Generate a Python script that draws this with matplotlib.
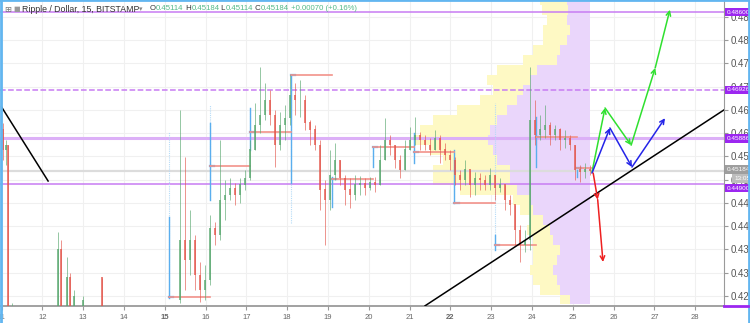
import matplotlib.pyplot as plt
import numpy as np

W, H = 750, 323

# axes
day_ticks = list(range(11, 29))
price_ticks = [0.425, 0.430, 0.435, 0.440, 0.445, 0.450, 0.455, 0.460,
               0.465, 0.470, 0.475, 0.480, 0.485]

# early candles (mostly below the visible range)
early_days = [11.03, 11.11, 11.16, 11.25, 12.38, 12.46, 12.60, 12.68, 12.77, 13.00, 13.46]
early_open = [0.4607, 0.4564, 0.4574, 0.4150, 0.4150, 0.4350, 0.4160, 0.4290, 0.4160, 0.4160, 0.4289]
early_high = [0.4622, 0.4585, 0.4574, 0.4235, 0.4388, 0.4370, 0.4334, 0.4300, 0.4263, 0.4250, 0.4289]
early_low = [0.4542, 0.4531, 0.4120, 0.4120, 0.4130, 0.4130, 0.4140, 0.4140, 0.4140, 0.4140, 0.4130]
early_close = [0.4564, 0.4574, 0.4150, 0.4210, 0.4350, 0.4160, 0.4290, 0.4160, 0.4250, 0.4240, 0.4150]

# main run of candles, day 15.4 -> 25.4 (thinned from the 15m chart)
first_open = 0.4242
closes = [0.4370, 0.4327, 0.4370, 0.4295, 0.4263, 0.4284, 0.4396, 0.4381, 0.4456, 0.4467,
          0.4482, 0.4467, 0.4489, 0.4503, 0.4564, 0.4617, 0.4639, 0.4671, 0.4639, 0.4574,
          0.4617, 0.4632, 0.4682, 0.4671, 0.4671, 0.4622, 0.4607, 0.4574, 0.4478, 0.4456,
          0.4510, 0.4542, 0.4503, 0.4478, 0.4467, 0.4489, 0.4493, 0.4482, 0.4495, 0.4489,
          0.4542, 0.4585, 0.4574, 0.4542, 0.4521, 0.4564, 0.4585, 0.4596, 0.4585, 0.4574,
          0.4564, 0.4589, 0.4564, 0.4553, 0.4542, 0.4510, 0.4499, 0.4521, 0.4489, 0.4503,
          0.4499, 0.4489, 0.4510, 0.4482, 0.4489, 0.4456, 0.4446, 0.4392, 0.4360, 0.4370,
          0.4628, 0.4596, 0.4607, 0.4617, 0.4596, 0.4607, 0.4585, 0.4589, 0.4574, 0.4521,
          0.4516, 0.4521, 0.45184]
highs = [0.4650, 0.4549, 0.4435, 0.4381, 0.4323, 0.4317, 0.4424, 0.4409, 0.4585, 0.4499,
         0.4503, 0.4493, 0.4503, 0.4521, 0.4585, 0.4665, 0.4742, 0.4708, 0.4693, 0.4650,
         0.4645, 0.4660, 0.4725, 0.4708, 0.4714, 0.4682, 0.4628, 0.4617, 0.4585, 0.4499,
         0.4564, 0.4579, 0.4542, 0.4510, 0.4503, 0.4510, 0.4508, 0.4503, 0.4506, 0.4506,
         0.4574, 0.4632, 0.4596, 0.4570, 0.4553, 0.4585, 0.4613, 0.4634, 0.4602, 0.4596,
         0.4589, 0.4607, 0.4596, 0.4579, 0.4564, 0.4549, 0.4521, 0.4542, 0.4516, 0.4516,
         0.4514, 0.4510, 0.4525, 0.4510, 0.4503, 0.4489, 0.4467, 0.4435, 0.4403, 0.4392,
         0.4742, 0.4671, 0.4639, 0.4660, 0.4624, 0.4617, 0.4611, 0.4607, 0.4596, 0.4574,
         0.4531, 0.4535, 0.4531]
lows = [0.4235, 0.4263, 0.4295, 0.4263, 0.4237, 0.4242, 0.4274, 0.4360, 0.4370, 0.4413,
        0.4456, 0.4446, 0.4450, 0.4478, 0.4499, 0.4564, 0.4600, 0.4628, 0.4617, 0.4527,
        0.4564, 0.4585, 0.4617, 0.4639, 0.4634, 0.4607, 0.4574, 0.4564, 0.4435, 0.4360,
        0.4435, 0.4499, 0.4489, 0.4446, 0.4439, 0.4456, 0.4467, 0.4467, 0.4478, 0.4474,
        0.4489, 0.4553, 0.4553, 0.4525, 0.4503, 0.4531, 0.4564, 0.4574, 0.4564, 0.4564,
        0.4553, 0.4570, 0.4535, 0.4542, 0.4521, 0.4489, 0.4478, 0.4489, 0.4463, 0.4467,
        0.4478, 0.4478, 0.4478, 0.4456, 0.4474, 0.4435, 0.4424, 0.4360, 0.4323, 0.4344,
        0.4349, 0.4574, 0.4585, 0.4589, 0.4574, 0.4585, 0.4564, 0.4568, 0.4564, 0.4499,
        0.4495, 0.4503, 0.4510]
main_start, main_end = 15.37, 25.42

# visible range volume profile (anchored at the last bar)
vp_right = 25.42
vp_price = [0.4886, 0.4864, 0.4843, 0.4821, 0.4800, 0.4779, 0.4757, 0.4736, 0.4714, 0.4693,
            0.4671, 0.4650, 0.4628, 0.4607, 0.4585, 0.4564, 0.4542, 0.4521, 0.4499, 0.4478,
            0.4456, 0.4435, 0.4413, 0.4392, 0.4370, 0.4349, 0.4327, 0.4306, 0.4284, 0.4263,
            0.4242]
vp_total = [1.23, 1.18, 1.05, 1.15, 1.15, 1.40, 1.64, 2.28, 2.52, 2.38,
            2.70, 3.26, 3.85, 4.17, 4.29, 3.92, 3.60, 3.85, 3.85, 3.19,
            1.89, 1.72, 1.47, 1.54, 1.40, 1.40, 1.40, 1.47, 1.40, 1.23, 0.74]
vp_inner = [0.56, 0.54, 0.56, 0.49, 0.56, 0.74, 0.81, 1.30, 1.47, 1.64,
            1.79, 2.03, 2.28, 2.45, 2.50, 2.38, 2.28, 1.96, 1.96, 1.79,
            1.47, 1.40, 1.15, 0.98, 0.91, 0.74, 0.81, 0.91, 0.81, 0.74, 0.49]

# daily session volume (blue) with point of control lines
sess_day = [15.1, 16.1, 17.1, 18.1, 19.1, 20.1, 21.1, 22.1, 23.1, 24.1, 25.1]
sess_lo = [0.4245, 0.4456, 0.4564, 0.4493, 0.4441, 0.4527, 0.4535, 0.4449, 0.4349, 0.4527, 0.4506]
sess_hi = [0.4419, 0.4622, 0.4654, 0.4725, 0.4506, 0.4570, 0.4600, 0.4564, 0.4381, 0.4634, 0.4521]
sess_ext_lo = [0.4245, 0.4456, 0.4564, 0.4406, 0.4441, 0.4527, 0.4535, 0.4449, 0.4349, 0.4527, 0.4506]
sess_ext_hi = [0.4603, 0.4660, 0.4654, 0.4725, 0.4506, 0.4570, 0.4600, 0.4564, 0.4665, 0.4634, 0.4521]
sess_poc = [0.4247, 0.4529, 0.4602, 0.4725, 0.4501, 0.4570, 0.4559, 0.4449, 0.4360, 0.4592, 0.4525]

# horizontal levels
levels = [0.48600, 0.46926, 0.45886, 0.44900]
level_styles = ["-", "--", "-", "-"]
last_price = 0.45184

# trend lines
down_days, down_prices = [11.0, 12.14], [0.4656, 0.4497]
up_days, up_prices = [21.38, 28.71], [0.4229, 0.4650]

# projected paths
green_days = [25.47, 25.79, 26.43, 27.02, 27.38]
green_prices = [0.4516, 0.4654, 0.4574, 0.4740, 0.4865]
blue_days = [25.47, 25.91, 26.45, 27.26]
blue_prices = [0.4514, 0.4611, 0.4527, 0.4632]
red_days = [25.50, 25.61, 25.74]
red_prices = [0.4514, 0.4457, 0.4323]

UP, DOWN = "#5aa870", "#e3584e"
PURPLE = "#c77cf2"
BOX = "#9c27f0"

plt.rcParams["font.family"] = ["Liberation Sans", "DejaVu Sans"]
fig = plt.figure(figsize=(W / 100, H / 100), dpi=100)
ax = fig.add_axes([0, 17 / H, 724 / W, 306 / H])
ax.set_xlim(10.961, 28.706)
ax.set_ylim(0.42285, 0.48859)

ax.set_xticks(day_ticks)
ax.set_yticks(price_ticks)
ax.grid(color="#f0f0f0", lw=0.8, zorder=0)
ax.set_axisbelow(True)

# volume profile
vp_price = np.array(vp_price)
vp_total = np.array(vp_total)
vp_inner = np.array(vp_inner)
ax.barh(vp_price, vp_total - vp_inner, left=vp_right - vp_total, height=0.00205,
        color="#fef9c4", lw=0, zorder=1)
ax.barh(vp_price, vp_inner, left=vp_right - vp_inner, height=0.00205,
        color="#ead6fb", lw=0, zorder=1)

# levels
for lv, ls in zip(levels, level_styles):
    lw = 2.2 if lv == 0.45886 else 1.1
    col = "#dcb0f7" if lv == 0.45886 else PURPLE
    ax.axhline(lv, color=col, lw=lw, ls=ls, zorder=2)
ax.axhline(last_price, color="#dcdcdc", lw=1.6, zorder=1.5)

# session volume + POC
for d, lo, hi, elo, ehi, poc in zip(sess_day, sess_lo, sess_hi, sess_ext_lo, sess_ext_hi, sess_poc):
    ax.plot([d, d], [elo, ehi], color="#b5dbf7", lw=0.8, ls=(0, (1, 1)), zorder=2.5)
    ax.plot([d, d], [lo, hi], color="#5aaeee", lw=1.0, zorder=2.6)
    ax.plot([d, d + 0.1], [poc, poc], color="#5aaeee", lw=1.6, zorder=2.6)
    end = min(d + 1.0, vp_right + 0.05)
    ax.plot([d, end], [poc, poc], color="#f2928a", lw=1.2, zorder=2.7)


def draw_candles(t, o, h, l, c, width):
    t, o, h, l, c = map(np.asarray, (t, o, h, l, c))
    h = np.maximum(h, np.maximum(o, c))
    l = np.minimum(l, np.minimum(o, c))
    col = np.where(c >= o, UP, DOWN)
    ax.vlines(t, l, h, colors=col, lw=0.6, alpha=0.75, zorder=3)
    ax.bar(t, np.abs(c - o) + 0.00008, bottom=np.minimum(o, c), width=width,
           color=col, alpha=0.75, lw=0, zorder=3)


draw_candles(early_days, early_open, early_high, early_low, early_close, 0.04)
times = np.linspace(main_start, main_end, len(closes))
opens = [first_open] + closes[:-1]
draw_candles(times, opens, highs, lows, closes, 0.055)

# trend lines
ax.plot(down_days, down_prices, color="black", lw=1.1, zorder=4)
ax.plot(up_days, up_prices, color="black", lw=1.1, zorder=4)

# projections
for ds, ps, col in [(green_days, green_prices, "#2fe02f"),
                    (blue_days, blue_prices, "#2424e8"),
                    (red_days, red_prices, "#ee2020")]:
    for i in range(len(ds) - 1):
        ax.annotate("", xy=(ds[i + 1], ps[i + 1]), xytext=(ds[i], ps[i]),
                    arrowprops=dict(arrowstyle="->", color=col, lw=1.1,
                                    mutation_scale=8, shrinkA=0, shrinkB=0),
                    zorder=5)

# axes styling
for s in ["top", "left"]:
    ax.spines[s].set_visible(False)
ax.spines["bottom"].set_color("#9a9a9a")
ax.spines["bottom"].set_linewidth(1.3)
ax.spines["right"].set_color("#9a9a9a")
ax.yaxis.tick_right()
ax.tick_params(axis="y", labelsize=7, colors="#9a9a9a", labelcolor="#555555",
               length=3, pad=1.5)
ax.tick_params(axis="x", labelsize=5.5, colors="#9a9a9a", labelcolor="#666666",
               length=3, pad=3)
ax.set_yticklabels([f"{p:.3f}" for p in price_ticks])
ax.set_xticklabels([str(d) for d in day_ticks])
for lab in ax.get_xticklabels():
    if lab.get_text() in ("15", "22"):
        lab.set_fontweight("bold")

# price scale labels
ytr = ax.get_yaxis_transform()
label_pos = [0.48600, 0.46926, 0.45886, 0.4482]
for lv, pos in zip(levels, label_pos):
    ax.text(1.004, pos, f"{lv:.5f}", transform=ytr, fontsize=4.6, color="white",
            va="center", ha="left", zorder=10, clip_on=False,
            bbox=dict(boxstyle="square,pad=0.3", fc=BOX, ec="none"))
ax.text(1.004, last_price + 0.0003, f"{last_price:.5f}", transform=ytr, fontsize=4.6,
        color="white", va="center", ha="left", zorder=10, clip_on=False,
        bbox=dict(boxstyle="square,pad=0.3", fc="#9e9e9e", ec="none"))
ax.text(1.014, last_price - 0.0016, "13:05", transform=ytr, fontsize=4.6,
        color="white", va="center", ha="left", zorder=10, clip_on=False,
        bbox=dict(boxstyle="square,pad=0.3", fc="#bdbdbd", ec="none"))

# header
renderer = fig.canvas.get_renderer()
fig.text(4 / W, 1 - 9 / H, "⊞", fontsize=6, color="#777777", va="center",
         family=["DejaVu Sans"])
fig.text(13 / W, 1 - 9 / H, "■", fontsize=5, color="#999999", va="center",
         family=["DejaVu Sans"])
fig.text(22 / W, 1 - 9 / H, "Ripple / Dollar, 15, BITSTAMP", fontsize=6.3,
         color="#333333", va="center")
fig.text(139 / W, 1 - 9 / H, "▾", fontsize=5, color="#888888", va="center",
         family=["DejaVu Sans"])
pieces = [("O", "#333333"), ("0.45114", "#53b987"), (" H", "#333333"), ("0.45184", "#53b987"),
          (" L", "#333333"), ("0.45114", "#53b987"), (" C", "#333333"), ("0.45184", "#53b987"),
          (" +0.00070 (+0.16%)", "#53b987")]
x = 150
for txt, col in pieces:
    t = fig.text(x / W, 1 - 9 / H, txt, fontsize=5.6, color=col, va="center")
    x += t.get_window_extent(renderer).width

# frame
frame = dict(color="#62b6f0", lw=2, transform=fig.transFigure, clip_on=False)
fig.add_artist(plt.Line2D([0.001, 0.001], [0, 1], **frame))
fig.add_artist(plt.Line2D([0, 1], [0.999, 0.999], **frame))
fig.add_artist(plt.Line2D([748.5 / W, 748.5 / W], [0, 1], **frame))
fig.add_artist(plt.Line2D([724 / W, 748 / W], [1 - 306 / H, 1 - 306 / H],
                          color=BOX, lw=2, transform=fig.transFigure))

fig.savefig("out.png", dpi=100)
